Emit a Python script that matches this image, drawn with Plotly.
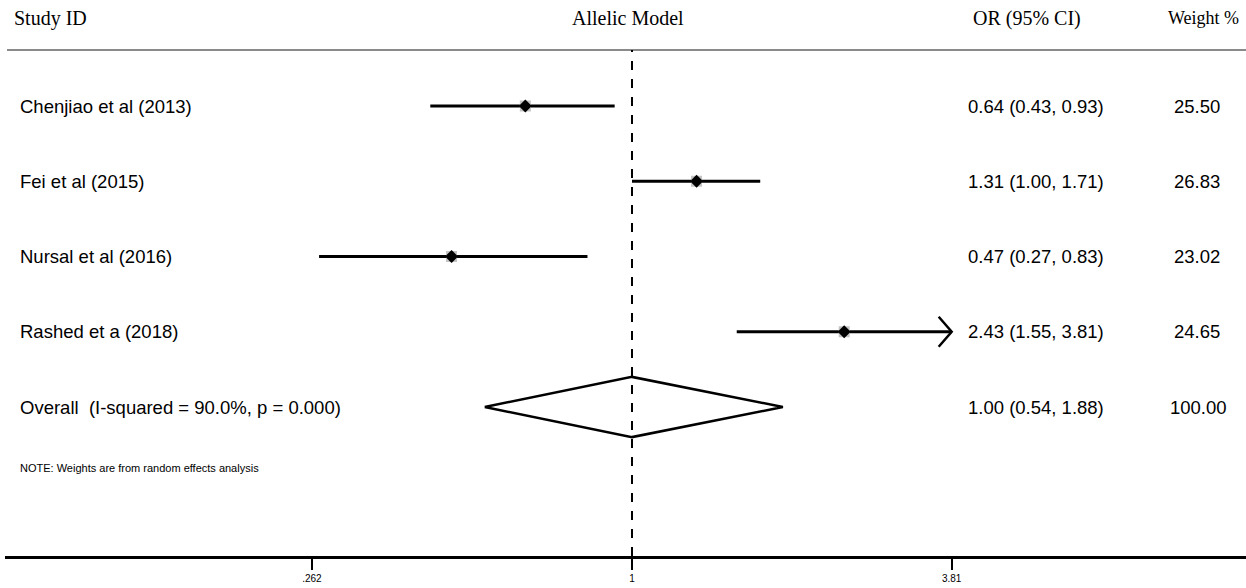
import numpy as np
import plotly.graph_objects as go

studies = ["Chenjiao et al (2013)", "Fei et al (2015)", "Nursal et al (2016)", "Rashed et a (2018)"]
or_vals = [0.64, 1.31, 0.47, 2.43]
ci_low = [0.43, 1.00, 0.27, 1.55]
ci_high = [0.93, 1.71, 0.83, 3.81]
weights = [25.50, 26.83, 23.02, 24.65]
overall_label = "Overall  (I-squared = 90.0%, p = 0.000)"
overall_or, overall_low, overall_high, overall_weight = 1.00, 0.54, 1.88, 100.00
tick_vals = [0.262, 1, 3.81]
tick_text = [".262", "1", "3.81"]
axis_max = 3.81

W, H = 1246, 588
ML, MB = 5, 32
PX_PER_LN = 239.0
X_ONE = 632
rows = list(range(1, len(studies) + 1))
overall_row = len(studies) + 1

SANS = "Liberation Sans, Arial, sans-serif"
SERIF = "Liberation Serif, Times New Roman, serif"

fig = go.Figure()

# CI lines
for i, r in enumerate(rows):
    hi = min(ci_high[i], axis_max)
    fig.add_trace(go.Scatter(x=[ci_low[i], hi], y=[r, r], mode="lines",
                             line=dict(color="black", width=3), hoverinfo="skip", showlegend=False))
    if ci_high[i] >= axis_max:
        fx = axis_max / np.exp(13 / PX_PER_LN)
        fig.add_trace(go.Scatter(x=[fx, axis_max, fx], y=[r - 0.2, r, r + 0.2], mode="lines",
                                 line=dict(color="black", width=2.5), hoverinfo="skip", showlegend=False))

# weight boxes
fig.add_trace(go.Scatter(x=or_vals, y=rows, mode="markers",
                         marker=dict(symbol="square", size=11, color="#c4c4c4"),
                         hoverinfo="skip", showlegend=False))
# point estimates
fig.add_trace(go.Scatter(x=or_vals, y=rows, mode="markers",
                         marker=dict(symbol="diamond", size=10, color="black"),
                         hoverinfo="skip", showlegend=False))

# overall diamond
fig.add_trace(go.Scatter(x=[overall_low, overall_or, overall_high, overall_or, overall_low],
                         y=[overall_row, overall_row - 0.4, overall_row, overall_row + 0.4, overall_row],
                         mode="lines", line=dict(color="black", width=2.5),
                         hoverinfo="skip", showlegend=False))

plot_h = H - MB
plot_w = W - ML
px_row1, px_step = 106, 75.25
y_top = 1 - px_row1 / px_step
y_bot = 1 + (plot_h - px_row1) / px_step

def py(px):
    return 1 - px / plot_h

def pxx(px):
    return (px - ML) / plot_w

top_line_paper = py(50)

shapes = [
    dict(type="line", xref="paper", yref="paper", x0=pxx(7), x1=1, y0=top_line_paper, y1=top_line_paper,
         line=dict(color="#8a8a8a", width=2)),
    dict(type="line", xref="x", yref="paper", x0=1, x1=1, y0=0, y1=top_line_paper,
         line=dict(color="black", width=2, dash="dash")),
]

ann = []
def txt(x, y, s, size=18.5, font=SANS, xanchor="left", yref="y"):
    ann.append(dict(x=x, y=y, xref="paper", yref=yref, text=s, showarrow=False,
                    xanchor=xanchor, yanchor="middle", font=dict(family=font, size=size, color="black")))

for i, r in enumerate(rows):
    txt(pxx(18), r, studies[i])
    txt(pxx(966), r, f"{or_vals[i]:.2f} ({ci_low[i]:.2f}, {ci_high[i]:.2f})")
    txt(pxx(1172), r, f"{weights[i]:.2f}")
txt(pxx(18), overall_row, overall_label)
txt(pxx(966), overall_row, f"{overall_or:.2f} ({overall_low:.2f}, {overall_high:.2f})")
txt(pxx(1168), overall_row, f"{overall_weight:.2f}")

hy = py(18)
txt(pxx(12), hy, "Study ID", size=20, font=SERIF, yref="paper")
txt(pxx(628), hy, "Allelic Model", size=20, font=SERIF, xanchor="center", yref="paper")
txt(pxx(1027), hy, "OR (95% CI)", size=20, font=SERIF, xanchor="center", yref="paper")
txt(pxx(1166), hy, "Weight %", size=18, font=SERIF, yref="paper")
txt(pxx(18), py(468), "NOTE: Weights are from random effects analysis", size=11, yref="paper")

ppl = PX_PER_LN * np.log(10)
x_lo = -(X_ONE - ML) / ppl
x_hi = (W - X_ONE) / ppl

fig.update_layout(
    width=W, height=H, margin=dict(l=ML, r=0, t=0, b=MB),
    paper_bgcolor="white", plot_bgcolor="white",
    xaxis=dict(type="log", range=[x_lo, x_hi], tickvals=tick_vals, ticktext=tick_text,
               showgrid=False, zeroline=False, showline=True, linecolor="black", linewidth=3,
               ticks="outside", ticklen=11, tickwidth=2, tickcolor="black",
               tickfont=dict(family=SANS, size=10, color="black")),
    yaxis=dict(range=[y_bot, y_top], visible=False, showgrid=False, zeroline=False),
    shapes=shapes, annotations=ann,
)

fig.write_html("out.html", config={"displayModeBar": False},
               post_script="document.body.style.margin='0px';document.body.style.overflow='hidden';")
